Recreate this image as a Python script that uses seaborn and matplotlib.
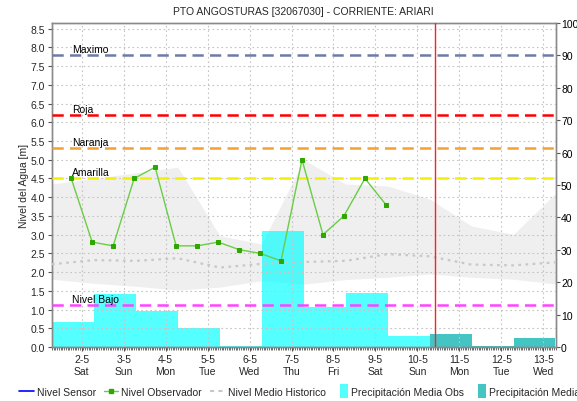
import numpy as np
import pandas as pd
import matplotlib
matplotlib.use("Agg")
import matplotlib.pyplot as plt
import matplotlib.dates as mdates
import matplotlib.patches as mpatches
from matplotlib.lines import Line2D
from matplotlib.legend_handler import HandlerPatch
import seaborn as sns

# ---------------- data ----------------
title = "PTO ANGOSTURAS [32067030] - CORRIENTE: ARIARI"

# observer readings (06:00 and 18:00)
obs_start = "2020-05-01 18:00"
obs_level = [4.5, 2.8, 2.7, 4.5, 4.8, 2.7, 2.7, 2.8, 2.6, 2.5, 2.3, 5.0, 3.0, 3.5, 4.5, 3.8]

# historic envelope and mean, daily at 07:00 from 1-5 to 13-5
hist_start = "2020-05-01 07:00"
hist_upper = [4.35, 4.5, 4.65, 4.8, 2.97, 2.75, 5.0, 4.35, 4.3, 3.95, 3.23, 3.01, 4.1]
hist_lower = [1.81, 1.7, 1.62, 1.52, 1.6, 1.77, 1.68, 1.8, 1.86, 1.95, 1.86, 1.81, 1.68]
hist_mean = [2.21, 2.32, 2.3, 2.37, 2.12, 2.22, 2.27, 2.3, 2.48, 2.42, 2.2, 2.18, 2.26]

# daily precipitation (mm), each bar spans 07:00 -> 07:00
precip_obs = [7.8, 16.4, 11.2, 6.0, 0.4, 35.7, 12.2, 16.8, 3.5]
precip_fc = [4.0, 0.4, 2.8]

# reference levels
level_names = ["Maximo", "Roja", "Naranja", "Amarilla", "Nivel Bajo"]
level_values = [7.8, 6.2, 5.3, 4.5, 1.13]
level_colors = ["#6D7BA6", "#FF0000", "#F5A033", "#F2F200", "#FF44FF"]

now_time = "2020-05-10 10:00"

tick_days = pd.date_range("2020-05-02", "2020-05-13", freq="D")
tick_labels = ["2-5\nSat", "3-5\nSun", "4-5\nMon", "5-5\nTue", "6-5\nWed", "7-5\nThu",
               "8-5\nFri", "9-5\nSat", "10-5\nSun", "11-5\nMon", "12-5\nTue", "13-5\nWed"]

legend_labels = ["Nivel Sensor", "Nivel Observador", "Nivel Medio Historico",
                 "Precipitación Media Obs", "Precipitación Media Pronosticada"]

# ---------------- frames ----------------
obs_df = pd.DataFrame({
    "fecha": pd.date_range(obs_start, periods=len(obs_level), freq="12h"),
    "nivel": obs_level,
})
hist_df = pd.DataFrame({
    "fecha": pd.date_range(hist_start, periods=len(hist_mean), freq="D"),
    "sup": hist_upper,
    "inf": hist_lower,
    "media": hist_mean,
})
bar_starts = pd.date_range(hist_start, periods=len(precip_obs) + len(precip_fc), freq="D")

# ---------------- style ----------------
sns.set_theme(style="white")
plt.rcParams["font.family"] = ["Liberation Sans", "DejaVu Sans"]
FS = 7.5
GRID = "#C4C4C4"
SPINE = "#8A8A8A"

fig = plt.figure(figsize=(5.77, 4.02), dpi=100)
rect = [52 / 577, 1 - 348 / 402, 503.5 / 577, 324 / 402]
ax = fig.add_axes(rect)
ax2 = ax.twinx()
ax.set_zorder(ax2.get_zorder() + 1)
ax.patch.set_visible(False)
ax2.patch.set_facecolor("white")

x0 = pd.Timestamp(hist_start)
x1 = pd.Timestamp("2020-05-13 07:00")

# historic envelope (behind the bars, drawn in level units)
ax2.fill_between(hist_df["fecha"], hist_df["inf"], hist_df["sup"],
                 color="#EFEFEF", lw=0, transform=ax.transData, zorder=1)

# precipitation bars on the right axis
n_obs = len(precip_obs)
ax2.bar(mdates.date2num(bar_starts[:n_obs]), precip_obs, width=1.0, align="edge",
        color="#00FFFF", alpha=0.67, lw=0, zorder=2)
ax2.bar(mdates.date2num(bar_starts[n_obs:]), precip_fc, width=1.0, align="edge",
        color="#45C4C4", lw=0, zorder=2)
ax2.set_ylim(0, 100)
ax2.set_yticks(np.arange(0, 101, 10))
ax2.tick_params(axis="y", labelsize=FS, length=3, width=0.8, color="#555555",
                pad=1, right=True, labelcolor="black")
ax2.grid(False)

# level grid
ax.grid(True, which="major", color=GRID, lw=0.8, ls=(0, (1.5, 2.5)))
ax.set_axisbelow(True)

# reference level lines and labels
for name, val, col in zip(level_names, level_values, level_colors):
    ax.axhline(val, color=col, lw=1.8, ls=(0, (4.5, 2.5)), zorder=3)
    ax.text(0.04, val + 0.03, name, transform=ax.get_yaxis_transform(),
            fontsize=FS, color="black", ha="left", va="bottom", zorder=4)

# historic mean
sns.lineplot(data=hist_df, x="fecha", y="media", ax=ax, color="#C8C8C8",
             lw=1.6, linestyle=(0, (1.2, 2.0)), legend=False, zorder=4)

# observer readings
sns.lineplot(data=obs_df, x="fecha", y="nivel", ax=ax, color="#6ACD45", lw=1.0,
             marker="s", markersize=2.6, markerfacecolor="#2EA800",
             markeredgecolor="#2EA800", legend=False, zorder=5)

# current time
ax.axvline(pd.Timestamp(now_time), color="#FF2020", lw=1.0, zorder=6)

ax.set_xlim(x0, x1)
ax.set_ylim(0, 8.65)
ax.set_yticks(np.arange(0, 8.51, 0.5))
ax.set_yticklabels([f"{v:.1f}" for v in np.arange(0, 8.51, 0.5)])
ax.set_xticks(tick_days)
ax.set_xticklabels(tick_labels)
ax.xaxis.set_minor_locator(mdates.HourLocator())
ax.tick_params(axis="x", which="major", labelsize=FS, length=3, width=0.8,
               color="#555555", pad=2, bottom=True)
ax.tick_params(axis="x", which="minor", length=2, width=0.6, color="#555555",
               bottom=True)
ax.tick_params(axis="y", labelsize=FS, length=3, width=0.8, color="#555555",
               pad=2, left=True)
ax.set_xlabel("")
ax.set_ylabel("Nivel del Agua [m]", fontsize=FS, labelpad=1)
ax.set_title(title, fontsize=FS, pad=6.5)

for a in (ax, ax2):
    for s in a.spines.values():
        s.set_color(SPINE)
        s.set_linewidth(1.0)


class NarrowPatch(HandlerPatch):
    def __init__(self):
        def make(legend, orig_handle, xdescent, ydescent, width, height, fontsize):
            return mpatches.Rectangle((-xdescent + width * 0.45, -ydescent - 2.5),
                                      width * 0.55, height + 5)
        super().__init__(patch_func=make)


handles = [
    Line2D([], [], color="#0000FF", lw=1.2),
    Line2D([], [], color="#6ACD45", lw=1.0, marker="s", markersize=2.5,
           markerfacecolor="#2EA800", markeredgecolor="#2EA800"),
    Line2D([], [], color="#C8C8C8", lw=1.5, ls=(0, (2, 2))),
    mpatches.Patch(color="#55FFFF", lw=0),
    mpatches.Patch(color="#45C4C4", lw=0),
]
fig.legend(handles, legend_labels, loc="center left",
           bbox_to_anchor=(19 / 577, 1 - 393 / 402), ncol=5, frameon=False,
           fontsize=FS, handlelength=1.4, handletextpad=0.3, columnspacing=0.75,
           borderpad=0, borderaxespad=0,
           handler_map={mpatches.Patch: NarrowPatch()})

fig.savefig("out.png", dpi=100)
